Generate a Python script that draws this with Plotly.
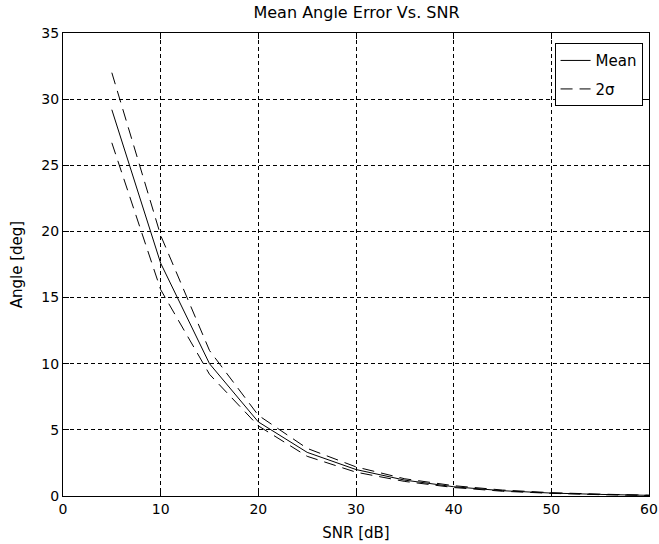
import plotly.graph_objects as go

snr = [5, 10, 15, 20, 25, 30, 35, 40, 45, 50, 55, 60]
mean_err = [29.2, 17.6, 10.0, 5.6, 3.3, 2.0, 1.2, 0.7, 0.4, 0.22, 0.12, 0.05]
upper_2s = [32.0, 19.7, 11.0, 6.1, 3.6, 2.2, 1.3, 0.78, 0.45, 0.25, 0.14, 0.06]
lower_2s = [26.7, 15.6, 9.2, 5.3, 3.0, 1.8, 1.1, 0.64, 0.36, 0.2, 0.1, 0.04]

x_ticks = [0, 10, 20, 30, 40, 50, 60]
y_ticks = [0, 5, 10, 15, 20, 25, 30, 35]

FONT = "DejaVu Sans, sans-serif"

fig = go.Figure()
fig.add_trace(go.Scatter(x=snr, y=mean_err, mode="lines", name="Mean", legendgroup="m",
                         line=dict(color="black", width=1)))
fig.add_trace(go.Scatter(x=snr, y=upper_2s, mode="lines", name="2σ", legendgroup="s",
                         line=dict(color="black", width=1, dash="12px,7px")))
fig.add_trace(go.Scatter(x=snr, y=lower_2s, mode="lines", name="2σ", legendgroup="s",
                         showlegend=False,
                         line=dict(color="black", width=1, dash="12px,7px")))

axis_common = dict(
    showline=True, linecolor="black", linewidth=1, mirror="ticks",
    ticks="inside", ticklen=6, tickcolor="black", tickwidth=1,
    showgrid=True, gridcolor="black", gridwidth=1, griddash="4px,3px",
    zeroline=False, automargin=False,
    tickfont=dict(family=FONT, size=14, color="black"),
)

fig.update_layout(
    width=659, height=544,
    margin=dict(l=63, r=10, t=33, b=48),
    paper_bgcolor="white", plot_bgcolor="white",
    font=dict(family=FONT, size=14, color="black"),
    title=dict(text="Mean Angle Error Vs. SNR", x=0.541, xanchor="center",
               y=0.978, yanchor="middle", font=dict(family=FONT, size=16, color="black")),
    xaxis=dict(range=[0, 60], tickvals=x_ticks, title=dict(text="SNR [dB]", standoff=11,
               font=dict(family=FONT, size=15)), **axis_common),
    yaxis=dict(range=[0, 35], tickvals=y_ticks, title=dict(text="Angle [deg]", standoff=15,
               font=dict(family=FONT, size=15)), **axis_common),
    legend=dict(x=0.989, y=0.978, xanchor="right", yanchor="top",
                bgcolor="white", bordercolor="black", borderwidth=1,
                font=dict(family=FONT, size=15, color="black"),
                tracegroupgap=6, entrywidth=75, entrywidthmode="pixels"),
    showlegend=True,
)

fig.write_html("out.html")
